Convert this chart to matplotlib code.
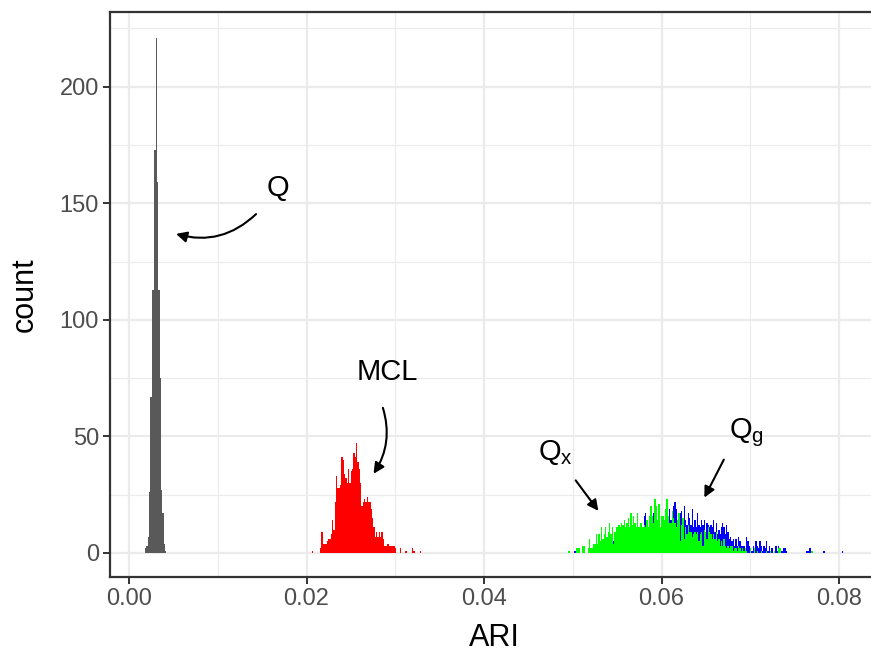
import numpy as np
import matplotlib
matplotlib.use("Agg")
import matplotlib.pyplot as plt

plt.rcParams['font.family'] = ['Liberation Sans', 'DejaVu Sans']
plt.rcParams['mathtext.fontset'] = 'custom'
plt.rcParams['mathtext.rm'] = 'Liberation Sans'
plt.rcParams['mathtext.it'] = 'Liberation Sans:italic'

# histogram bin width (ARI units) and first bin edge of each method
bin_width = 0.00015
start_q = 0.0018
start_mcl = 0.02062
start_qx = 0.04943
start_qg = 0.04943

# counts per bin
counts_q = [2, 3, 7, 26, 67, 113, 113, 173, 221, 159, 113, 75, 27, 17, 4, 1]

counts_mcl = [1, 0, 0, 0, 0, 0, 2, 9, 4, 4, 4, 5, 6, 6, 8, 14, 10, 22, 33, 28,
              28, 29, 41, 40, 34, 32, 30, 36, 30, 35, 36, 43, 41, 47, 39, 36, 30, 20, 22, 23,
              22, 24, 22,
              22, 19, 15, 11, 7, 9, 7, 9, 7, 9, 6, 3, 3, 4, 4, 3, 3, 3, 3, 2,
              0, 0, 0, 2, 0, 0, 0, 1, 0, 0, 0, 0, 2, 1, 0, 0, 0, 0, 1]

counts_qx = [1, 1, 0, 0, 0, 0, 2, 2, 2, 0, 0, 3, 3, 0, 0, 2, 6, 2, 2, 4,
             4, 8, 4, 8, 5, 11, 6, 8, 11, 7, 9, 13, 8, 11, 4, 9, 11, 11, 12, 11,
             13, 12, 14, 11, 13, 15, 11, 17, 12, 16, 13, 11,
             17, 11, 13, 13, 11, 12, 11, 14, 11, 16, 20, 16, 13, 23, 20, 14, 21, 11, 16, 16,
             14, 19, 23, 16, 13, 13, 18, 15, 13, 11, 14, 17, 5, 12, 15, 6, 11, 8, 12, 9,
             9, 7, 8, 9, 8, 9, 5, 8, 9, 3, 10, 9, 6,
             11, 9, 8, 6, 8, 6, 9, 5, 6, 3, 5, 3, 6, 3, 2, 3, 2, 3, 3, 1,
             2, 2, 1, 3, 2, 1, 2, 1, 2, 1, 0, 0, 2, 0, 0, 2, 0, 1, 0, 0,
             1, 0, 0, 0, 1, 0, 0, 1, 0, 0, 1, 0, 0,
             2, 2, 0, 0, 0, 0, 0, 0, 0, 0, 0, 0, 0, 0, 0, 0, 0, 0, 0, 0,
             0, 0, 0, 0, 0, 1]

counts_qg = [0, 0, 0, 0, 0, 1, 0, 1, 0, 0, 0, 1, 0, 0, 0, 1, 1, 0, 1, 2,
             1, 2, 3, 2, 3, 4, 3, 5, 4, 5, 6, 5, 7, 6, 5, 7, 8, 6, 8, 9,
             7, 9, 10, 8, 10, 9, 11, 10, 9, 12, 10, 11,
             8, 10, 9, 7, 9, 16, 17, 10, 9, 12, 13, 11, 17, 14, 15, 12, 14, 10, 13, 12,
             11, 15, 14, 13, 19, 14, 16, 20, 22, 19, 14, 14, 17, 18, 14, 20, 14, 12, 17, 15,
             12, 19, 11, 14, 11, 17, 12, 11, 14, 12, 14, 9, 13,
             12, 11, 12, 11, 14, 9, 13, 8, 10, 8, 11, 13, 11, 8, 12, 9, 6, 7, 5, 6,
             3, 6, 3, 7, 5, 3, 3, 3, 2, 7, 5, 3, 2, 1, 3, 2, 5, 3, 2, 5,
             3, 1, 3, 2, 5, 1, 3, 1, 2, 0, 1, 3, 1,
             3, 1, 1, 1, 2, 2, 1, 0, 0, 0, 0, 0, 0, 0, 0, 0, 0, 0, 0, 0,
             0, 1, 1, 2, 2, 0, 0, 0, 0, 0, 0, 0, 0, 0, 1, 0, 0, 0, 0, 0,
             0, 0, 0, 0, 0, 0, 0, 0, 1]

x_ticks = [0.00, 0.02, 0.04, 0.06, 0.08]
x_tick_labels = ['0.00', '0.02', '0.04', '0.06', '0.08']
y_ticks = [0, 50, 100, 150, 200]


def edges(start, counts):
    return start + bin_width * np.arange(len(counts))


def hist_bars(ax, start, counts, color, z):
    ax.bar(edges(start, counts), counts, width=bin_width, align='edge',
           color=color, linewidth=0, antialiased=False, zorder=z)


fig = plt.figure(figsize=(8.71, 6.57), dpi=100)
ax = fig.add_axes([110 / 871, 80 / 657, 769 / 871, 565 / 657])

hist_bars(ax, start_q, counts_q, '#595959', 3)
hist_bars(ax, start_mcl, counts_mcl, '#FF0000', 3)
hist_bars(ax, start_qg, counts_qg, '#0000FF', 3)
hist_bars(ax, start_qx, counts_qx, '#00FF00', 4)

ax.set_xlim(-0.00214, 0.0845)
ax.set_ylim(-10.3, 232.05)

# theme_bw look
ax.set_xticks(x_ticks)
ax.set_xticklabels(x_tick_labels)
ax.set_yticks(y_ticks)
ax.set_xticks([0.01, 0.03, 0.05, 0.07], minor=True)
ax.set_yticks([25, 75, 125, 175, 225], minor=True)
ax.grid(which='major', color='#EBEBEB', linewidth=1.6, zorder=0)
ax.grid(which='minor', color='#EBEBEB', linewidth=0.8, zorder=0)
ax.set_axisbelow(True)
ax.tick_params(which='major', length=5, width=1.4, color='#333333',
               labelsize=17, labelcolor='#4D4D4D', pad=3)
ax.tick_params(which='minor', length=0)
for s in ax.spines.values():
    s.set_color('#333333')
    s.set_linewidth(1.6)

ax.set_xlabel('ARI', fontsize=22, labelpad=9)
ax.set_ylabel('count', fontsize=22, labelpad=14)

# annotations
arrow_kw = dict(arrowstyle='-|>', color='black', lw=1.5, mutation_scale=16)
ax.text(0.01679, 156.4, 'Q', fontsize=21, ha='center', va='center')
ax.annotate('', xy=(0.00500, 137.2), xytext=(0.01454, 146.2),
            arrowprops=dict(connectionstyle='arc3,rad=-0.3', **arrow_kw))
ax.text(0.02907, 77.6, 'MCL', fontsize=21, ha='center', va='center')
ax.annotate('', xy=(0.02738, 33.0), xytext=(0.02851, 63.4),
            arrowprops=dict(connectionstyle='arc3,rad=-0.25', **arrow_kw))
ax.text(0.0480, 42.9, r'Q$_\mathrm{x}$', fontsize=21, ha='center', va='center')
ax.annotate('', xy=(0.05307, 17.1), xytext=(0.05014, 32.1),
            arrowprops=dict(connectionstyle='arc3,rad=0', **arrow_kw))
ax.text(0.06952, 51.5, r'Q$_\mathrm{g}$', fontsize=21, ha='center', va='center')
ax.annotate('', xy=(0.06468, 22.7), xytext=(0.06716, 41.1),
            arrowprops=dict(connectionstyle='arc3,rad=0', **arrow_kw))

fig.savefig('out.png', dpi=100)
